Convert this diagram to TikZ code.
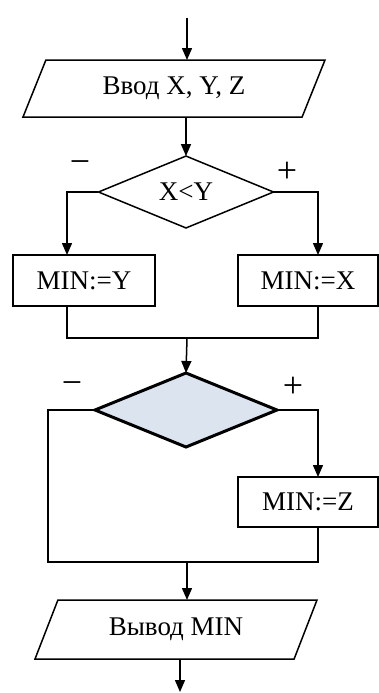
\documentclass[tikz,border=0pt]{standalone}
\usepackage{fontspec}
\setmainfont{Liberation Serif}
\usetikzlibrary{shapes.geometric,arrows.meta}
\definecolor{condfill}{RGB}{220,228,239}
\begin{document}
\begin{tikzpicture}[x=0.5pt,y=-0.5pt,
    font=\fontsize{13.5}{16}\selectfont,
    line/.style={line width=0.75pt},
    arr/.style={line, -{Triangle[length=6pt,width=5pt]}},
    sign/.style={font=\fontsize{18}{20}\selectfont},
    io/.style={draw, line, trapezium, trapezium left angle=45, trapezium right angle=135,
        trapezium stretches body, inner sep=0pt, outer sep=0pt, minimum height=28.5pt},
    cond/.style={draw, line, diamond, inner sep=0pt, outer sep=0pt},
    box/.style={draw, line, rectangle, inner sep=0pt, outer sep=0pt, minimum height=25.5pt}]
    \useasboundingbox (0,0) rectangle (379,693);
    \node[io, minimum width=151pt] (in) at (174,88.5) {Ввод X, Y, Z};
    \node[cond, minimum width=87.5pt, minimum height=35.5pt] (c1) at (186,192) {X<Y};
    \node[box, minimum width=71pt] (m1) at (84,280.5) {MIN:=Y};
    \node[box, minimum width=70pt] (m2) at (308,280.5) {MIN:=X};
    \node[cond, minimum width=91pt, minimum height=37pt, fill=condfill, line width=1.5pt] (c2) at (186,410) {};
    \node[box, minimum width=70pt, minimum height=25pt] (m3) at (308,502) {MIN:=Z};
    \node[io, minimum width=141pt, minimum height=29.5pt] (out) at (176,629.5) {Вывод MIN};
    \node[sign] (no1) at (80,167) {−};
    \node[sign] (yes1) at (287,172) {+};
    \node[sign] (no2) at (72,388) {−};
    \node[sign] (yes2) at (293,387) {+};
    \coordinate (top) at (187,18);
    \coordinate (end) at (180,692);
    \coordinate (l1) at (67,0);
    \coordinate (l2) at (48,0);
    \coordinate (r1) at (318,0);
    \coordinate (j1) at (187,338);
    \coordinate (j2) at (187,562);
    \draw[arr] (top) -- (top |- in.north);
    \draw[arr] (c1.north |- in.south) -- (c1.north);
    \draw[arr] (c1.west) -| (l1 |- m1.north);
    \draw[arr] (c1.east) -| (r1 |- m2.north);
    \draw[line] (l1 |- m1.south) |- (j1) -| (r1 |- m2.south);
    \draw[arr] (j1) -- (c2.north);
    \draw[line] (c2.west) -| (l2 |- j2) -| (r1 |- m3.south);
    \draw[arr] (c2.east) -| (r1 |- m3.north);
    \draw[arr] (j2) -- (j2 |- out.north);
    \draw[arr] (end |- out.south) -- (end);
\end{tikzpicture}
\end{document}
